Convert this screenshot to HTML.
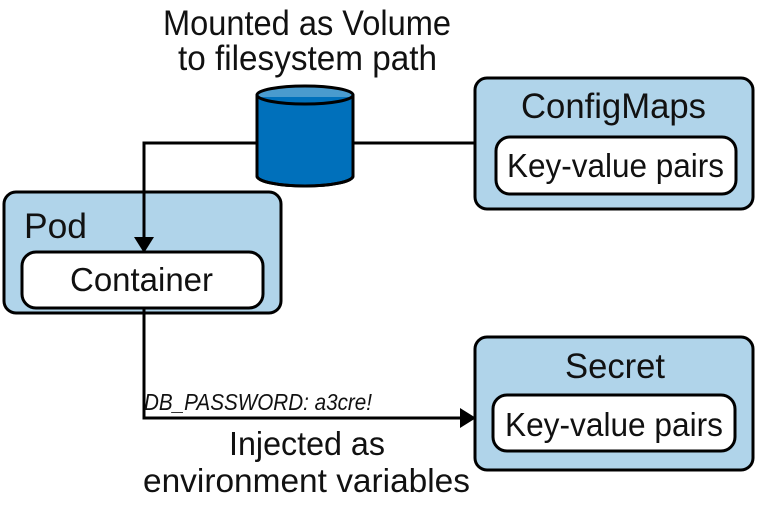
<!DOCTYPE html>
<html><head><meta charset="utf-8"><style>
html,body{margin:0;padding:0;background:#fff;width:757px;height:505px;overflow:hidden}
text{font-family:"Liberation Sans Narrow","Liberation Sans",sans-serif;fill:#111}
</style></head><body>
<svg width="757" height="505" viewBox="0 0 757 505" xmlns="http://www.w3.org/2000/svg">
<text x="163" y="35" font-size="35" textLength="288" lengthAdjust="spacingAndGlyphs">Mounted as Volume</text>
<text x="178" y="70" font-size="35" textLength="259" lengthAdjust="spacingAndGlyphs">to filesystem path</text>
<!-- Pod -->
<rect x="4" y="192" width="277" height="121" rx="12" fill="#b0d4ea" stroke="#000" stroke-width="3"/>
<text x="24" y="238" font-size="35" textLength="63" lengthAdjust="spacingAndGlyphs">Pod</text>
<rect x="22" y="252" width="241" height="56" rx="14" fill="#fff" stroke="#000" stroke-width="3"/>
<text x="70" y="291" font-size="33" textLength="143" lengthAdjust="spacingAndGlyphs">Container</text>
<!-- ConfigMaps -->
<rect x="475" y="78" width="278" height="131" rx="12" fill="#b0d4ea" stroke="#000" stroke-width="3"/>
<text x="521" y="118" font-size="35" textLength="185" lengthAdjust="spacingAndGlyphs">ConfigMaps</text>
<rect x="496" y="137" width="240" height="57" rx="14" fill="#fff" stroke="#000" stroke-width="3"/>
<text x="507" y="177" font-size="33" textLength="217" lengthAdjust="spacingAndGlyphs">Key-value pairs</text>
<!-- Secret -->
<rect x="475" y="337" width="278" height="133" rx="12" fill="#b0d4ea" stroke="#000" stroke-width="3"/>
<text x="565" y="378" font-size="35" textLength="100" lengthAdjust="spacingAndGlyphs">Secret</text>
<rect x="493" y="395" width="242" height="56" rx="14" fill="#fff" stroke="#000" stroke-width="3"/>
<text x="505" y="436" font-size="33" textLength="218" lengthAdjust="spacingAndGlyphs">Key-value pairs</text>
<!-- connectors -->
<path d="M258 143 H144 V240" fill="none" stroke="#000" stroke-width="3"/>
<polygon points="134,237 154,237 144,253" fill="#000"/>
<path d="M352 143 H476" fill="none" stroke="#000" stroke-width="3"/>
<path d="M144 309 V418 H462" fill="none" stroke="#000" stroke-width="3"/>
<polygon points="460,408 476,418 460,428" fill="#000"/>
<!-- cylinder -->
<path d="M257 95 V176 A48 10 0 0 0 353 176 V95" fill="#0070bb" stroke="#000" stroke-width="3"/>
<ellipse cx="305" cy="95" rx="48" ry="9" fill="#4a9bce"/>
<path d="M258 97 A48 9 0 0 0 352 97" fill="#0070bb"/>
<path d="M257 95 V176 A48 10 0 0 0 353 176 V95" fill="none" stroke="#000" stroke-width="3"/>
<ellipse cx="305" cy="95" rx="48" ry="9" fill="none" stroke="#000" stroke-width="3"/>
<!-- labels -->
<text x="144" y="410" font-size="23" font-style="italic" textLength="228" lengthAdjust="spacingAndGlyphs">DB_PASSWORD: a3cre!</text>
<text x="229" y="455" font-size="33" textLength="156" lengthAdjust="spacingAndGlyphs">Injected as</text>
<text x="143" y="492" font-size="33" textLength="327" lengthAdjust="spacingAndGlyphs">environment variables</text>
</svg>
</body></html>
